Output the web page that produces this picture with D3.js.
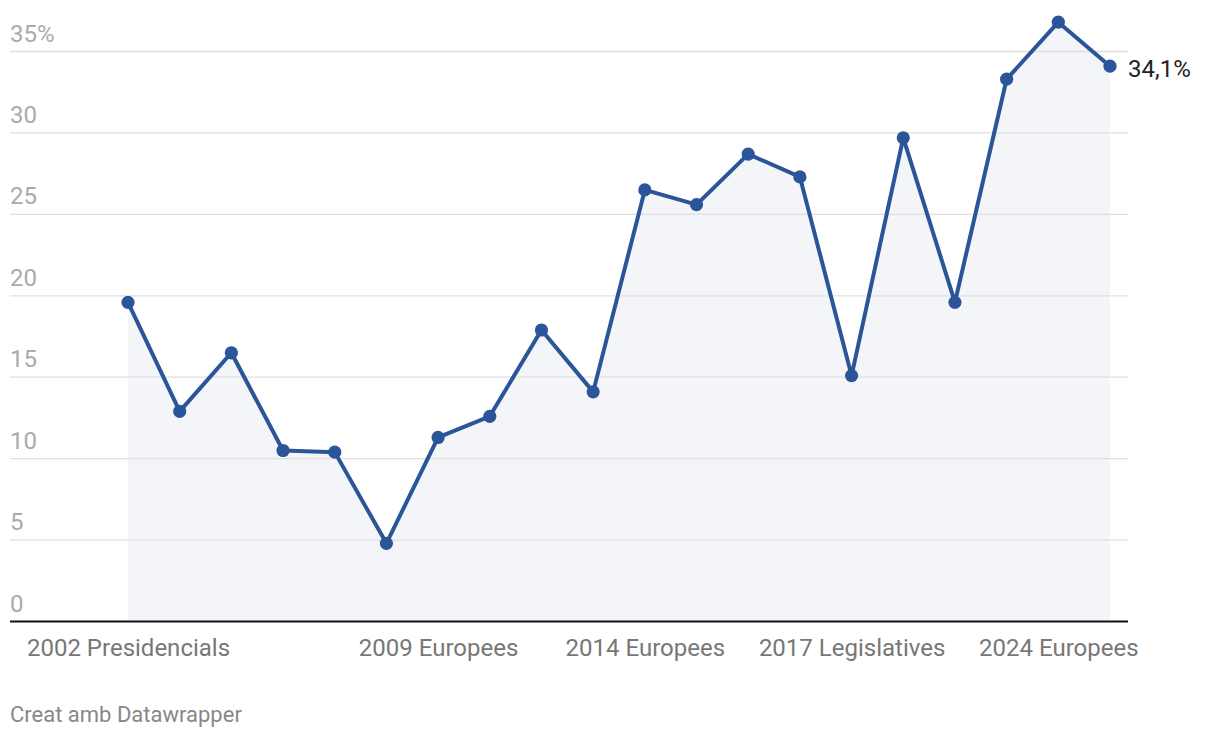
<!DOCTYPE html>
<html>
<head>
<meta charset="utf-8">
<script src="https://cdn.jsdelivr.net/npm/d3@7"></script>
<style>
  body { margin: 0; background: #fff; }
  svg { font-family: Roboto, sans-serif; }
</style>
</head>
<body>
<div id="chart"></div>
<script>
// Data
const values = [19.6, 12.9, 16.5, 10.5, 10.4, 4.8, 11.3, 12.6, 17.9, 14.1,
  26.5, 25.6, 28.7, 27.3, 15.1, 29.7, 19.6, 33.3, 36.8, 34.1]
const tickIndex = [0, 6, 10, 14, 18]
const tickLabels = ['2002 Presidencials', '2009 Europees', '2014 Europees', '2017 Legislatives', '2024 Europees']
const yTicks = [0, 5, 10, 15, 20, 25, 30, 35]

const dataset = values.map((v, i) => ({ i, v }))
const xAccessor = d => d.i
const yAccessor = d => d.v

// Dimensions
const width = 1220
const height = 738
const left = 10
const right = 1128

const svg = d3.select('#chart')
  .append('svg')
  .attr('width', width)
  .attr('height', height)

// Scales
const xScale = d3.scaleLinear()
  .domain([0, values.length - 1])
  .range([128, 1110])

const yScale = d3.scaleLinear()
  .domain([0, 35])
  .range([621.5, 51.5])

// Area
const areaGenerator = d3.area()
  .x(d => xScale(xAccessor(d)))
  .y0(yScale(0))
  .y1(d => yScale(yAccessor(d)))

svg.append('path')
  .datum(dataset)
  .attr('d', areaGenerator)
  .attr('fill', '#f4f5f9')

// Grid
const grid = svg.append('g')
grid.selectAll('line')
  .data(yTicks.filter(d => d > 0))
  .join('line')
  .attr('x1', left)
  .attr('x2', right)
  .attr('y1', d => yScale(d))
  .attr('y2', d => yScale(d))
  .attr('stroke', '#e0e0e0')
  .attr('stroke-width', 1.3)

grid.selectAll('text')
  .data(yTicks)
  .join('text')
  .attr('x', left)
  .attr('y', d => yScale(d) - 10)
  .attr('fill', '#aaaaaa')
  .style('font-size', '24px')
  .text(d => d === 35 ? '35%' : d)

// Line
const lineGenerator = d3.line()
  .x(d => xScale(xAccessor(d)))
  .y(d => yScale(yAccessor(d)))

svg.append('path')
  .datum(dataset)
  .attr('d', lineGenerator)
  .attr('fill', 'none')
  .attr('stroke', '#2a5599')
  .attr('stroke-width', 4)
  .attr('stroke-linejoin', 'round')

svg.append('g')
  .selectAll('circle')
  .data(dataset)
  .join('circle')
  .attr('cx', d => xScale(xAccessor(d)))
  .attr('cy', d => yScale(yAccessor(d)))
  .attr('r', 6.6)
  .attr('fill', '#2a5599')

// Axis
const xAxis = d3.axisBottom(xScale)
  .tickValues(tickIndex)
  .tickFormat((d, i) => tickLabels[i])
  .tickSize(0)
  .tickPadding(17)

const xAxisGroup = svg.append('g')
  .attr('transform', `translate(0, ${yScale(0)})`)
  .call(xAxis)

xAxisGroup.select('.domain').remove()
xAxisGroup.selectAll('text')
  .attr('fill', '#777777')
  .style('font-size', '24px')
  .style('font-family', 'Roboto, sans-serif')

svg.append('line')
  .attr('x1', left)
  .attr('x2', right)
  .attr('y1', yScale(0))
  .attr('y2', yScale(0))
  .attr('stroke', '#111')
  .attr('stroke-width', 2)

// Last value label
const last = dataset[dataset.length - 1]
svg.append('text')
  .attr('x', xScale(xAccessor(last)) + 18)
  .attr('y', yScale(yAccessor(last)) + 11)
  .attr('fill', '#222')
  .style('font-size', '24px')
  .text(d3.format('.1f')(yAccessor(last)).replace('.', ',') + '%')

// Credit
svg.append('text')
  .attr('x', left)
  .attr('y', 722)
  .attr('fill', '#888')
  .style('font-size', '22px')
  .text('Creat amb Datawrapper')
</script>
</body>
</html>
